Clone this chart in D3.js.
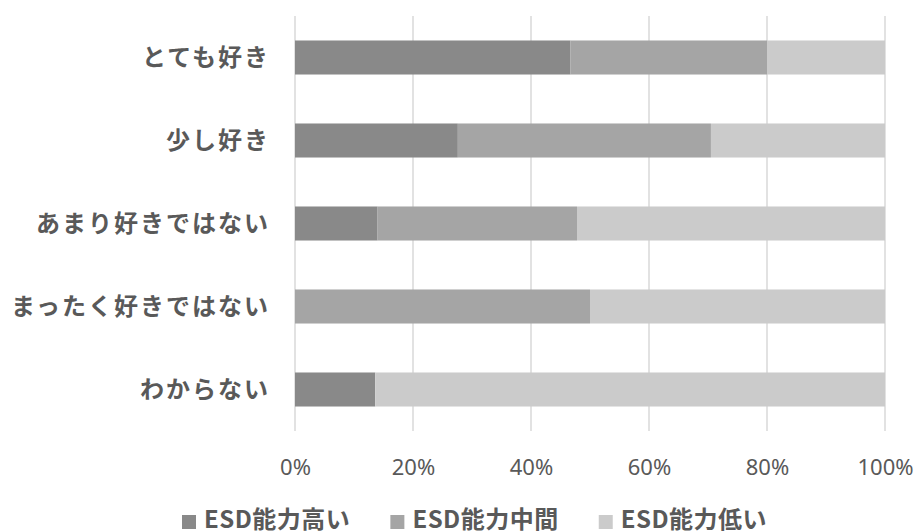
<!DOCTYPE html>
<html>
<head>
<meta charset="utf-8">
<script src="https://cdn.jsdelivr.net/npm/d3@7"></script>
<style>
  html, body { margin: 0; padding: 0; background: #fff; }
  svg { display: block; }
</style>
</head>
<body>
<div id="chart"></div>
<script>
const categories = ['とても好き', '少し好き', 'あまり好きではない', 'まったく好きではない', 'わからない'];
const seriesNames = ['ESD能力高い', 'ESD能力中間', 'ESD能力低い'];
const high = [46.7, 27.6, 14.0, 0, 13.6];
const mid = [33.3, 42.9, 33.8, 50.0, 0];
const low = [20.0, 29.5, 52.2, 50.0, 86.4];
const tickValues = [0, 20, 40, 60, 80, 100];
const colors = ['#898989', '#a5a5a5', '#cbcbcb'];

const width = 919;
const height = 531;
const textColor = '#595959';
const jpFont = '"Noto Sans CJK JP", "Noto Sans", sans-serif';

const rows = categories.map((c, i) => ({
  cat: c,
  'ESD能力高い': high[i],
  'ESD能力中間': mid[i],
  'ESD能力低い': low[i]
}));

const svg = d3.select('#chart')
  .append('svg')
  .attr('width', width)
  .attr('height', height);

const x = d3.scaleLinear().domain([0, 100]).range([295, 885]);
const y = d3.scaleBand()
  .domain(categories)
  .range([16, 431])
  .paddingInner(0.59)
  .paddingOuter(0.295);

// gridlines
svg.append('g')
  .selectAll('line')
  .data(tickValues)
  .enter()
  .append('line')
  .attr('x1', d => x(d))
  .attr('x2', d => x(d))
  .attr('y1', 16)
  .attr('y2', 431)
  .attr('stroke', '#d9d9d9')
  .attr('stroke-width', 1.5);

// stacked bars
const stack = d3.stack().keys(seriesNames);
const layers = stack(rows);

svg.append('g')
  .selectAll('g')
  .data(layers)
  .enter()
  .append('g')
  .attr('fill', (d, i) => colors[i])
  .selectAll('rect')
  .data(d => d)
  .enter()
  .append('rect')
  .attr('x', d => x(d[0]))
  .attr('y', d => y(d.data.cat))
  .attr('width', d => x(d[1]) - x(d[0]))
  .attr('height', y.bandwidth());

// category labels
svg.append('g')
  .selectAll('text')
  .data(categories)
  .enter()
  .append('text')
  .attr('x', 270)
  .attr('y', d => y(d) + y.bandwidth() / 2)
  .attr('dy', '0.36em')
  .attr('text-anchor', 'end')
  .style('font-family', jpFont)
  .style('font-weight', 'bold')
  .style('font-size', '24px')
  .style('letter-spacing', '2px')
  .style('fill', textColor)
  .text(d => d);

// x axis tick labels
const xAxis = d3.axisBottom(x)
  .tickValues(tickValues)
  .tickFormat(d => d + '%')
  .tickSize(0)
  .tickPadding(0);

const axisG = svg.append('g')
  .attr('transform', 'translate(0, 459)')
  .call(xAxis);
axisG.select('.domain').remove();
axisG.selectAll('text')
  .attr('dy', '0.71em')
  .style('font-family', '"Noto Sans", sans-serif')
  .style('font-size', '22px')
  .style('fill', textColor);

// legend
const legend = svg.append('g');
let lx = 182;
seriesNames.forEach((name, i) => {
  legend.append('rect')
    .attr('x', lx)
    .attr('y', 515)
    .attr('width', 14)
    .attr('height', 14)
    .attr('fill', colors[i]);
  const t = legend.append('text')
    .attr('x', lx + 22)
    .attr('y', 528)
    .style('font-family', jpFont)
    .style('font-weight', 'bold')
    .style('font-size', '24px')
    .style('letter-spacing', '0.5px')
    .style('fill', textColor)
    .text(name);
  lx += 22 + t.node().getComputedTextLength() + 40;
});
</script>
</body>
</html>
